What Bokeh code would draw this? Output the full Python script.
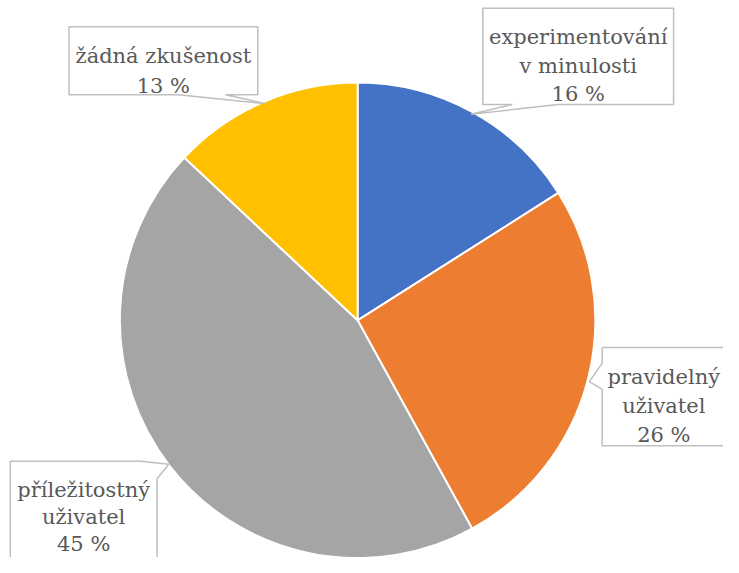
import math
from bokeh.plotting import figure
from bokeh.models import Range1d, ColumnDataSource
from bokeh.core.properties import value
from bokeh.embed import file_html
from bokeh.resources import INLINE

# ---- data ----
categories = ["experimentování v minulosti", "pravidelný uživatel",
              "příležitostný uživatel", "žádná zkušenost"]
label_lines = [["experimentování", "v minulosti"], ["pravidelný", "uživatel"],
               ["příležitostný", "uživatel"], ["žádná zkušenost"]]
values = [16, 26, 45, 13]
colors = ["#4472C4", "#ED7D31", "#A5A5A5", "#FFC000"]

# ---- layout: data space = reference pixel space (739 x 573) ----
W, H = 723, 557
RW, RH = 739, 573


def X(sx):
    return sx


def Y(sy):
    return RH - sy


CX, CY, R = 365, 329, 243

p = figure(width=W, height=H, output_backend="svg", toolbar_location=None,
           x_range=Range1d(0, RW), y_range=Range1d(0, RH), min_border=0)
p.axis.visible = False
p.grid.visible = False
p.outline_line_color = None
p.background_fill_color = "white"

total = float(sum(values))
starts, ends = [], []
cum = 0.0
for v in values:
    starts.append(math.pi / 2 - 2 * math.pi * cum / total)
    cum += v
    ends.append(math.pi / 2 - 2 * math.pi * cum / total)

src = ColumnDataSource(dict(x=[X(CX)] * len(values), y=[Y(CY)] * len(values),
                            start=starts, end=ends, color=colors))
p.wedge(x="x", y="y", radius=R, radius_units="data", start_angle="start",
        end_angle="end", direction="clock", fill_color="color",
        line_color="white", line_width=2, source=src)

# callout shapes (reference pixel coords): box + pointer
callouts = [
    dict(poly=[(493, 8), (688, 8), (688, 107), (570, 107), (481, 117), (523, 107), (493, 107)],
         cx=590.5, base=38, step=29),
    dict(poly=[(615, 357), (745, 357), (745, 458), (615, 458), (615, 400), (602, 392), (615, 373)],
         cx=678, base=387, step=30),
    dict(poly=[(10, 474), (143, 474), (172, 477), (160, 492), (160, 590), (10, 590)],
         cx=85, base=504, step=27.5),
    dict(poly=[(70, 27), (263, 27), (263, 97), (230, 97), (270, 106), (182, 97), (70, 97)],
         cx=166.5, base=57, step=31),
]

tx, ty, tt = [], [], []
for c, lines, v in zip(callouts, label_lines, values):
    xs = [X(a) for a, b in c["poly"]]
    ys = [Y(b) for a, b in c["poly"]]
    p.patch(xs, ys, fill_color="white", line_color="#BFBFBF", line_width=1.5)
    for i, t in enumerate(lines + [f"{v} %"]):
        tx.append(X(c["cx"]))
        ty.append(Y(c["base"] + i * c["step"]))
        tt.append(t)

p.text(x=tx, y=ty, text=tt, text_font=value("DejaVu Serif"),
       text_font_size="21px", text_color="#595959", text_align="center",
       text_baseline="alphabetic")

open("out.html", "w").write(file_html(p, INLINE))
